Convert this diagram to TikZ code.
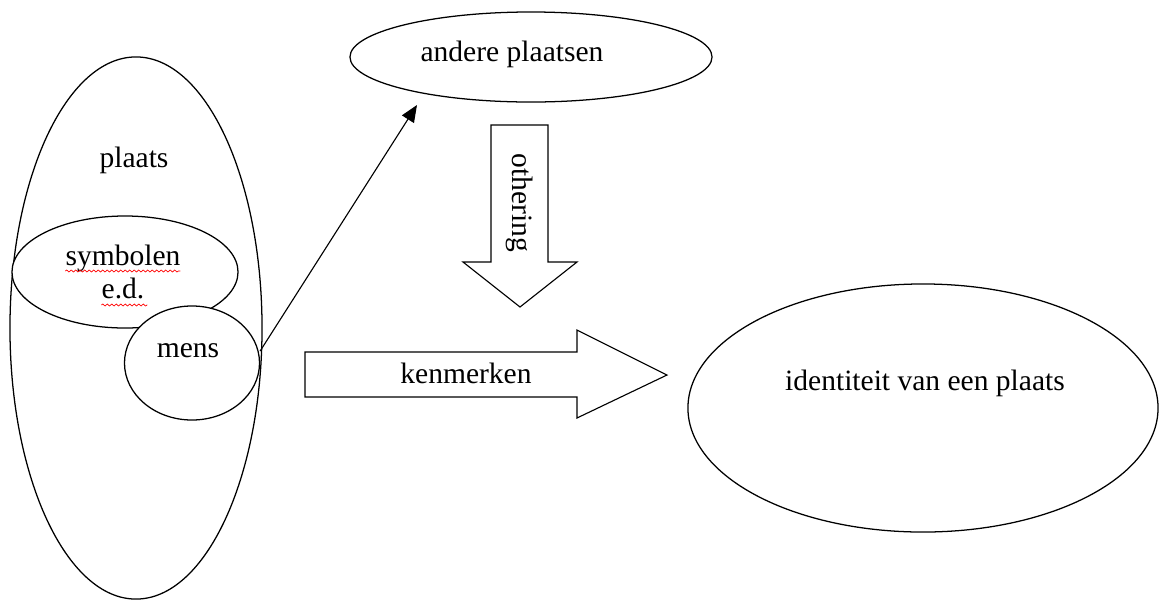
\documentclass[tikz,border=0pt]{standalone}
\usepackage{fontspec}
\setmainfont{Liberation Serif}
\usepackage{tikz}
\usetikzlibrary{shapes.geometric,arrows.meta,decorations.pathmorphing}
\tikzset{
  ovaal/.style={draw, ellipse, line width=0.9pt, fill=white, inner sep=0pt},
  tekst/.style={font=\fontsize{21}{25}\selectfont, inner sep=0pt, anchor=base},
  blokpijl/.style={draw, line width=0.8pt, fill=white, line join=miter},
  kronkel/.style={red, line width=0.5pt, decorate,
    decoration={snake, amplitude=0.7pt, segment length=3.2pt}}
}

\begin{document}
\begin{tikzpicture}[x=0.025cm, y=-0.025cm]
\useasboundingbox (0,0) rectangle (1160,601);
\node[ovaal, minimum width=6.3cm, minimum height=13.55cm] (plaats) at (136,328) {};
\node[ovaal, minimum width=5.65cm, minimum height=2.8cm] (symbolen) at (125,272) {};
\node[ovaal, minimum width=3.375cm, minimum height=2.85cm] (mens) at (192,363) {};
\node[ovaal, minimum width=9.05cm, minimum height=2.25cm] (andere) at (531,57) {};
\node[ovaal, minimum width=11.75cm, minimum height=6.2cm] (identiteit) at (923,408) {};
\node[tekst] (plaatstekst) at (134,167) {plaats};
\node[tekst] (symbolentekst) at (123,265) {symbolen};
\node[tekst] (edtekst) at (123,298) {e.d.};
\node[tekst] (menstekst) at (188,357) {mens};
\node[tekst] (anderetekst) at (512,61) {andere plaatsen};
\node[tekst] (identiteittekst) at (925,390) {identiteit van een plaats};
\draw[kronkel] (symbolentekst.base west) ++(0,6) -- ++(115,0);
\draw[kronkel] (edtekst.base west) ++(0,7) -- ++(46,0);
\coordinate (pijlpunt) at (417,105);
\draw[line width=0.8pt, -{Triangle[length=12pt,width=10pt]}] (mens.east) ++(0,-12) -- (pijlpunt);
\draw[blokpijl] (491,125) -- (548,125) -- (548,262) -- (577,262) -- (520,307)
  -- (463,262) -- (491,262) -- cycle;
\node[tekst, anchor=center, rotate=-90] (otheringtekst) at (520,203) {othering};
\draw[blokpijl] (305,352) -- (577,352) -- (577,330) -- (667,375) -- (577,418)
  -- (577,397) -- (305,397) -- cycle;
\node[tekst] (kenmerkentekst) at (466,383) {kenmerken};
\end{tikzpicture}
\end{document}
